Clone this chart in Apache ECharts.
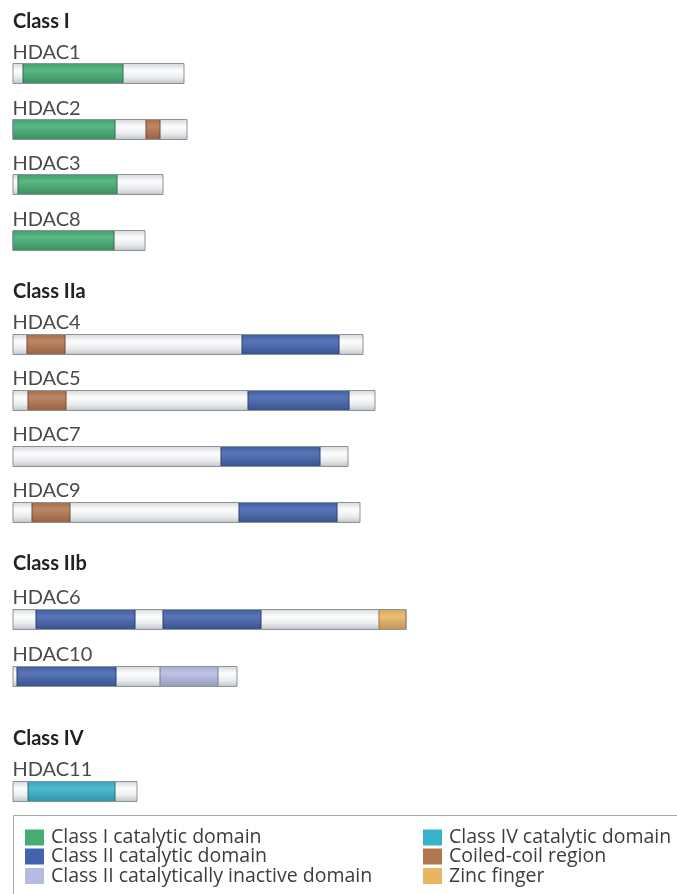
<!DOCTYPE html>
<html>
<head>
<meta charset="utf-8">
<script src="https://cdn.jsdelivr.net/npm/echarts@6/dist/echarts.min.js"></script>
<style>
  html, body { margin: 0; padding: 0; background: #ffffff; }
  #chart { width: 677px; height: 894px; }
</style>
</head>
<body>
<div id="chart"></div>
<script>
// ---------------- DATA (relative protein lengths) ----------------
const classTitles = ['Class I', 'Class IIa', 'Class IIb', 'Class IV'];
const classIProteins   = ['HDAC1', 'HDAC2', 'HDAC3', 'HDAC8'];
const classIIaProteins = ['HDAC4', 'HDAC5', 'HDAC7', 'HDAC9'];
const classIIbProteins = ['HDAC6', 'HDAC10'];
const classIVProteins  = ['HDAC11'];

const proteinNames   = ['HDAC1', 'HDAC2', 'HDAC3', 'HDAC8', 'HDAC4', 'HDAC5', 'HDAC7', 'HDAC9', 'HDAC6', 'HDAC10', 'HDAC11'];
const proteinLengths = [171, 174, 150, 132, 350, 362, 335, 347, 393, 224, 124];

// domains: [protein, start, end]
const classICatalytic    = [['HDAC1', 10, 110], ['HDAC2', 0, 102], ['HDAC3', 5, 104], ['HDAC8', 0, 101]];
const classIICatalytic   = [['HDAC4', 229, 326], ['HDAC5', 235, 336], ['HDAC7', 208, 307], ['HDAC9', 226, 324],
                            ['HDAC6', 23, 122], ['HDAC6', 150, 248], ['HDAC10', 4, 103]];
const classIIInactive    = [['HDAC10', 147, 205]];
const classIVCatalytic   = [['HDAC11', 15, 102]];
const coiledCoil         = [['HDAC2', 133, 147], ['HDAC4', 14, 52], ['HDAC5', 15, 53], ['HDAC9', 19, 57]];
const zincFinger         = [['HDAC6', 366, 393]];

const domainNames = ['Class I catalytic domain', 'Class II catalytic domain', 'Class II catalytically inactive domain',
                     'Class IV catalytic domain', 'Coiled-coil region', 'Zinc finger'];
const domainData  = [classICatalytic, classIICatalytic, classIIInactive, classIVCatalytic, coiledCoil, zincFinger];

// ---------------- STYLE ----------------
const domainColors = ['#45ad72', '#4263ad', '#b6bbe4', '#38b2ca', '#b47650', '#e8b562'];
const groups = [classIProteins, classIIaProteins, classIIbProteins, classIVProteins];
const gridLayout = [ // top, row pitch (px)
  { top: 45.2, pitch: 55.67 },
  { top: 315.5, pitch: 56 },
  { top: 590, pitch: 57 },
  { top: 762, pitch: 57 }
];
const headingOffset = [51.5, 51.5, 55, 52];
const BAR_H = 20;
const FONT = 'Lato, "Open Sans", sans-serif';
const LEGEND_FONT = '"Open Sans", Lato, sans-serif';
const legendLeft = [25, 25, 25, 423, 423, 423];
const legendTop  = [827.5, 846.5, 866, 827.5, 846.5, 866];

function shade(hex, amt) {
  const n = parseInt(hex.slice(1), 16);
  let r = (n >> 16) & 255, g = (n >> 8) & 255, b = n & 255;
  const f = (c) => {
    const v = amt >= 0 ? c + (255 - c) * amt : c * (1 + amt);
    return Math.max(0, Math.min(255, Math.round(v)));
  };
  return 'rgb(' + f(r) + ',' + f(g) + ',' + f(b) + ')';
}
function grad(hex) {
  return new echarts.graphic.LinearGradient(0, 0, 0, 1, [
    { offset: 0, color: shade(hex, -0.08) },
    { offset: 0.35, color: shade(hex, 0.12) },
    { offset: 1, color: shade(hex, -0.18) }
  ]);
}
const backboneGrad = () => new echarts.graphic.LinearGradient(0, 0, 0, 1, [
  { offset: 0, color: '#d6dade' },
  { offset: 0.35, color: '#fdfdfd' },
  { offset: 0.7, color: '#eaecee' },
  { offset: 1, color: '#c0c5ca' }
]);

const chart = echarts.init(document.getElementById('chart'), null, { renderer: 'canvas' });

const grids = [], xAxes = [], yAxes = [], series = [], graphics = [];

groups.forEach((prots, g) => {
  const L = gridLayout[g];
  grids.push({ left: 13, width: 660, top: L.top, height: L.pitch * prots.length });
  xAxes.push({ type: 'value', gridIndex: g, min: 0, max: 660, show: false });
  yAxes.push({ type: 'category', gridIndex: g, data: prots, inverse: true, show: false });

  const backbone = prots.map(p => [p, 0, proteinLengths[proteinNames.indexOf(p)]]);

  // backbone fill + name label
  series.push({
    type: 'custom', xAxisIndex: g, yAxisIndex: g, z: 1, silent: true,
    encode: { x: [1, 2], y: 0 },
    data: backbone,
    renderItem: (params, api) => {
      const a = api.coord([api.value(1), api.value(0)]);
      const b = api.coord([api.value(2), api.value(0)]);
      const y = Math.round(a[1] - BAR_H / 2) + 0.5;
      return {
        type: 'group',
        children: [
          { type: 'rect', shape: { x: a[0], y: y, width: b[0] - a[0], height: BAR_H }, style: { fill: backboneGrad() } },
          { type: 'text', x: a[0] - 0.5, y: a[1] - 20.5,
            style: { text: prots[params.dataIndex], fill: '#4a4a4a', font: '20px ' + FONT, verticalAlign: 'middle', align: 'left' } }
        ]
      };
    }
  });

  // domains
  domainNames.forEach((name, d) => {
    const items = domainData[d].filter(it => prots.indexOf(it[0]) >= 0);
    if (!items.length) return;
    const col = domainColors[d];
    series.push({
      name: name, type: 'custom', xAxisIndex: g, yAxisIndex: g, z: 2,
      itemStyle: { color: col },
      encode: { x: [1, 2], y: 0 },
      data: items,
      renderItem: (params, api) => {
        const a = api.coord([api.value(1), api.value(0)]);
        const b = api.coord([api.value(2), api.value(0)]);
        const y = Math.round(a[1] - BAR_H / 2) + 0.5;
        return { type: 'rect', shape: { x: a[0], y: y, width: b[0] - a[0], height: BAR_H },
                 style: { fill: grad(col), stroke: shade(col, -0.35), lineWidth: 1 } };
      }
    });
  });

  // outline
  series.push({
    type: 'custom', xAxisIndex: g, yAxisIndex: g, z: 3, silent: true,
    encode: { x: [1, 2], y: 0 },
    data: backbone,
    renderItem: (params, api) => {
      const a = api.coord([api.value(1), api.value(0)]);
      const b = api.coord([api.value(2), api.value(0)]);
      const y = Math.round(a[1] - BAR_H / 2) + 0.5;
      return { type: 'rect', shape: { x: a[0], y: y, width: b[0] - a[0], height: BAR_H },
               style: { fill: 'none', stroke: '#8e9398', lineWidth: 1 } };
    }
  });

  graphics.push({
    type: 'text', x: 13, y: L.top + L.pitch / 2 - headingOffset[g],
    style: { text: classTitles[g], fill: '#222222', font: 'bold 20px ' + FONT, verticalAlign: 'middle', align: 'left' }
  });
});

// legend frame
graphics.push({
  type: 'rect', x: 13.5, y: 815.5, silent: true,
  shape: { x: 0, y: 0, width: 700, height: 120 },
  style: { fill: 'none', stroke: '#a8a8a8', lineWidth: 1 }
});

const legends = domainNames.map((name, i) => ({
  orient: 'vertical', icon: 'rect', itemWidth: 19, itemHeight: 16, padding: 0,
  selectedMode: false, left: legendLeft[i], top: legendTop[i], data: [name],
  textStyle: { fontFamily: LEGEND_FONT, fontSize: 19.5, lineHeight: 16, color: '#3c3c3c', padding: [0, 0, 0, 2] }
}));

chart.setOption({
  animation: false,
  backgroundColor: '#ffffff',
  grid: grids,
  xAxis: xAxes,
  yAxis: yAxes,
  legend: legends,
  graphic: graphics,
  series: series
});
</script>
</body>
</html>
